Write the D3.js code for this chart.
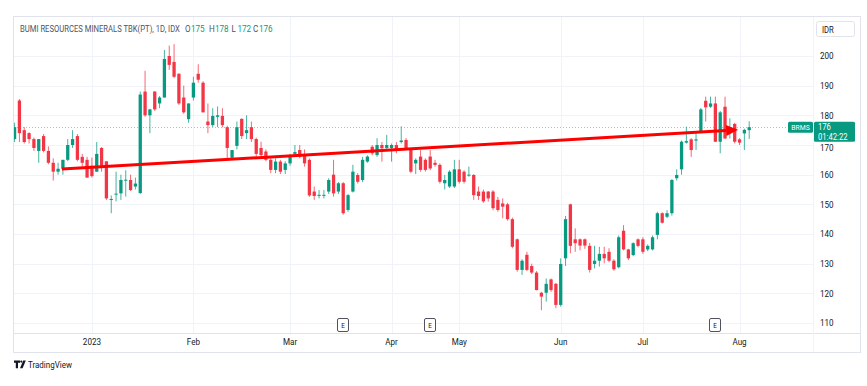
<!DOCTYPE html>
<html>
<head>
<meta charset="utf-8">
<script src="https://cdn.jsdelivr.net/npm/d3@7"></script>
<style>
  body { margin: 0; background: #fff; }
  text { font-family: Roboto, "Liberation Sans", sans-serif; }
</style>
</head>
<body>
<script>
// daily candles, BRMS (first one is cut by the left edge)
var opens = [172, 185, 175, 174, 172, 168, 173, 168, 164, 161, 162, 165, 170, 173, 166, 165, 163, 161, 169, 164.5, 151.5,
  153.3, 153.7, 158, 158.2, 156, 153.8, 188, 180, 188, 184, 186, 200, 198, 194, 186, 178.7, 186, 194, 191, 177.9,
  176.7, 179.5, 179.8, 176, 165.7, 169.7, 178.8, 174, 176, 172, 169, 167.8, 165, 161.6, 164.4, 161.6, 163.8, 167, 168.3,
  166.6, 165, 154.3, 153, 153, 154.3, 160, 154.3, 157.1, 148.1, 154.3, 159.9, 158.2, 164.4, 169.4, 166.6, 170, 169, 169,
  170, 171, 171.7, 168.3, 163.8, 166.1, 165, 166.1, 164, 163.3, 157.1, 156, 156, 161.8, 161, 159.7, 159.9, 154.3, 154.3,
  154.3, 154.3, 151.5, 150.3, 150, 145, 138.2, 127.9, 133, 129.2, 127, 120.2, 120.2, 124.7, 123.2, 116.1, 131.8, 150,
  138.2, 138.2, 138.2, 136, 129.9, 131, 133.3, 134, 131, 128.8, 141.1, 134.8, 132.9, 138.2, 138.2, 134.8, 134.8, 139.7,
  147, 145.8, 147, 158.8, 161.8, 170.8, 171.9, 171.5, 174.5, 184.9, 182.9, 184, 171.1, 182.9, 174, 177.1, 171.9, 173.9, 175];
var highs = [177.5, 185.5, 176, 174.3, 172.5, 172, 173.7, 169.5, 165.5, 164, 165, 172, 175, 173.7, 167, 166, 165.8, 171, 169.3, 164.5, 153,
  161, 160, 161.5, 160, 159, 188, 195, 182.2, 188.2, 186.5, 202, 203.5, 204, 194.2, 190, 184, 193, 197.2, 191.5, 184,
  182.4, 183, 182.4, 176.5, 168.3, 177.9, 179, 180, 177.9, 172.5, 171.1, 168.5, 165.5, 165.5, 165, 164.5, 167, 170, 170,
  168.5, 165.5, 156, 154.8, 154.8, 158.8, 165, 157.5, 157.5, 153.5, 163.3, 160.5, 166, 166.5, 170, 172.3, 171, 173.4, 170.5,
  171, 176.3, 172.3, 168.5, 165.5, 168.3, 165.5, 168.3, 165, 163.8, 159.9, 161.5, 165, 165, 161.5, 162.7, 160.2, 156, 155,
  154.5, 154.8, 152.5, 152, 150.5, 145.5, 138.5, 131.5, 134, 130, 127.5, 120.5, 125, 125, 123.5, 131.8, 146.1, 150.2,
  141.9, 138.5, 138.5, 137, 136, 135.7, 135.7, 135.2, 131.5, 139.5, 143, 135, 137.2, 138.5, 138.9, 136.5, 139.5, 147.5,
  147.3, 148, 158.5, 161.8, 171.5, 176.2, 172.3, 174, 182.5, 186.3, 186.3, 186.3, 181.5, 186.3, 179, 177.5, 172.3, 175.5, 178];
var lows = [171, 171, 170.5, 170.5, 168, 164, 167.5, 163.5, 158, 160, 160, 164.5, 169, 164.5, 162.7, 159, 159, 161, 161, 151.5, 147,
  151, 151.5, 152.6, 154.5, 155, 153.5, 179.5, 174, 181.5, 182.4, 186, 195.3, 192.5, 183.5, 180.5, 177.5, 185, 191, 181, 174,
  176, 176, 176, 165.5, 165, 168.5, 172, 172, 171, 165.5, 166, 164.5, 160.5, 160.5, 160.2, 160.2, 163, 166.5, 165.5,
  162.7, 152.5, 151.5, 152, 152, 153.5, 152.6, 153.5, 146.5, 147.5, 154, 157, 157.5, 164, 166.5, 166, 164.4, 168, 164.4,
  167.2, 170.5, 168.5, 160.5, 160.2, 161, 161, 161.5, 162.7, 157, 155, 155.5, 155.5, 157, 157, 159.3, 151.5, 151.5, 150.5,
  150.9, 148, 147.5, 145.3, 144.5, 135.2, 127.3, 126.2, 127.5, 126.5, 121, 114.3, 117.2, 120.5, 115, 115.5, 129.2, 133.5,
  134, 134.5, 135, 127, 128.4, 129, 130.1, 130.5, 127.6, 128.4, 134.5, 131.2, 132.5, 135.5, 133.3, 134.2, 134.5, 138.2,
  143.5, 145.3, 146.2, 158, 160, 170.5, 166, 168.3, 174, 177.9, 182.5, 171, 167.2, 172, 172.2, 170.5, 170, 168.3, 172];
var closes = [176, 174, 171, 172, 169, 172, 168, 164, 161, 162, 165, 170, 172, 165, 164, 159, 159.5, 167, 163, 152, 151.8,
  153.6, 158.2, 158.3, 154.8, 157, 187, 180, 182, 182, 186, 199, 197, 193, 184, 181, 184, 191, 192, 181, 176.7,
  179.8, 180, 176.7, 169, 168.3, 176, 173, 175, 172, 167, 166.6, 165, 161.6, 164.4, 161, 163.8, 166, 167.6, 166,
  163.8, 153, 152.8, 153.2, 153.2, 158.2, 153.7, 157.1, 147, 153.1, 161, 157.6, 165, 166.1, 167.2, 170, 168.9, 170, 170,
  168.3, 171.5, 168.9, 161, 165, 161.6, 161.6, 162.1, 163.3, 157.6, 158.2, 161, 161.8, 157.6, 157.6, 160, 153.1, 152.8, 151,
  152, 148.7, 148.1, 149.2, 145, 135.7, 127.9, 131, 127.9, 127, 121.1, 118.9, 123.2, 121.1, 116.1, 129.9, 145, 136,
  136.9, 136.1, 136.1, 127.9, 131, 133.3, 131.8, 131, 128.1, 138.9, 134.8, 131.8, 136.9, 136, 134, 136, 138.9, 147,
  143.8, 147, 158.2, 159.9, 171.1, 171.3, 168.3, 171.9, 182, 182.7, 184, 171.1, 181, 172.2, 175.5, 171.1, 170.8, 175.1, 176];

var monthLabels = ["2023", "Feb", "Mar", "Apr", "May", "Jun", "Jul", "Aug"];
var monthIdx = [16, 37, 57, 78, 92, 113, 130, 150];
var priceTicks = [110, 120, 130, 140, 150, 160, 170, 180, 190, 200];
var earningsIdx = [68, 86, 145];
var trendLine = [{ k: 9.8, p: 161.9 }, { k: 149.7, p: 175.1 }];
var lastPrice = 176;

var width = 867, height = 386;
var plotLeft = 14, plotRight = 813, plotTop = 17, plotBottom = 333, outerRight = 860, outerBottom = 352;
var upColor = "#089981", downColor = "#f23645", gridColor = "#f0f3fa", lineColor = "#e0e3eb";

var svg = d3.select("body").append("svg")
    .attr("width", width)
    .attr("height", height);

var x = d3.scaleLinear().domain([-0.12, 165.2]).range([plotLeft, plotRight]);
var y = d3.scaleLinear().domain([106.63, 213.14]).range([plotBottom, plotTop]);
var bw = (x(1) - x(0)) * 0.68;

function label(g, px, py, s, size, fill, anchor, sx) {
    return g.append("text")
        .attr("transform", "translate(" + px + "," + py + ") scale(" + (sx || 0.85) + ",1)")
        .attr("font-size", size)
        .attr("fill", fill)
        .attr("text-anchor", anchor || "start")
        .attr("dominant-baseline", "central")
        .text(s);
}

// text squeezed to a given on-screen width
function fitLabel(g, px, py, s, size, fill, w) {
    var t = label(g, px, py, s, size, fill, "start", 1);
    var len = t.node().getComputedTextLength();
    t.attr("transform", "translate(" + px + "," + py + ") scale(" + (w / len) + ",1)");
    return t;
}

svg.append("defs").append("clipPath").attr("id", "plot")
    .append("rect").attr("x", plotLeft).attr("y", plotTop)
    .attr("width", plotRight - plotLeft).attr("height", plotBottom - plotTop);

// grid
svg.append("g").selectAll("line").data(priceTicks).enter().append("line")
    .attr("x1", plotLeft).attr("x2", plotRight)
    .attr("y1", function(d) { return Math.round(y(d)) + 0.5; })
    .attr("y2", function(d) { return Math.round(y(d)) + 0.5; })
    .attr("stroke", gridColor);
svg.append("g").selectAll("line").data(monthIdx).enter().append("line")
    .attr("x1", function(d) { return Math.round(x(d)) + 0.5; })
    .attr("x2", function(d) { return Math.round(x(d)) + 0.5; })
    .attr("y1", plotTop).attr("y2", plotBottom)
    .attr("stroke", gridColor);

// frame
var frame = svg.append("g").attr("fill", "none").attr("stroke", lineColor);
frame.append("rect").attr("x", plotLeft - 0.5).attr("y", plotTop - 0.5)
    .attr("width", outerRight - plotLeft + 1).attr("height", outerBottom - plotTop + 1);
frame.append("line").attr("x1", plotLeft).attr("x2", outerRight)
    .attr("y1", plotBottom + 0.5).attr("y2", plotBottom + 0.5);
frame.append("line").attr("x1", plotRight + 0.5).attr("x2", plotRight + 0.5)
    .attr("y1", plotTop).attr("y2", outerBottom).attr("stroke", gridColor);

// current price dotted line
svg.append("line")
    .attr("x1", plotLeft).attr("x2", 788)
    .attr("y1", Math.round(y(lastPrice)) + 0.5).attr("y2", Math.round(y(lastPrice)) + 0.5)
    .attr("stroke", upColor).attr("stroke-opacity", 0.45)
    .attr("stroke-dasharray", "1,2");

var candles = d3.range(opens.length).map(function(k) {
    return { k: k, o: opens[k], h: highs[k], l: lows[k], c: closes[k] };
});

var plot = svg.append("g").attr("clip-path", "url(#plot)");

var g = plot.selectAll(".candle")
    .data(candles)
    .enter().append("g");

g.append("line")
    .attr("x1", function(d) { return x(d.k); })
    .attr("x2", function(d) { return x(d.k); })
    .attr("y1", function(d) { return y(d.h); })
    .attr("y2", function(d) { return y(d.l); })
    .attr("stroke", function(d) { return d.c >= d.o ? upColor : downColor; })
    .attr("stroke-opacity", 0.75);

g.append("rect")
    .attr("x", function(d) { return x(d.k) - bw / 2; })
    .attr("y", function(d) { return y(Math.max(d.o, d.c)); })
    .attr("width", bw)
    .attr("height", function(d) { return Math.max(1, Math.abs(y(d.o) - y(d.c))); })
    .attr("fill", function(d) { return d.c >= d.o ? upColor : downColor; });

// trend line with arrow head
var tx1 = x(trendLine[0].k), ty1 = y(trendLine[0].p);
var tx2 = x(trendLine[1].k), ty2 = y(trendLine[1].p);
var ang = Math.atan2(ty2 - ty1, tx2 - tx1);
var headLen = 12, headW = 5.5;
var bx = tx2 - headLen * Math.cos(ang), by = ty2 - headLen * Math.sin(ang);
plot.append("line")
    .attr("x1", tx1).attr("y1", ty1).attr("x2", bx).attr("y2", by)
    .attr("stroke", "#ff0000").attr("stroke-width", 3);
plot.append("path")
    .attr("d", "M" + tx2 + "," + ty2 +
        "L" + (bx + headW * Math.sin(ang)) + "," + (by - headW * Math.cos(ang)) +
        "L" + (bx - headW * Math.sin(ang)) + "," + (by + headW * Math.cos(ang)) + "Z")
    .attr("fill", "#ff0000");

// earnings markers
var e = svg.append("g").selectAll("g").data(earningsIdx).enter().append("g");
e.append("rect")
    .attr("x", function(d) { return Math.round(x(d)) - 5.5; })
    .attr("y", 318.5).attr("width", 11).attr("height", 13).attr("rx", 1.5)
    .attr("fill", "#fff").attr("stroke", "#50535e");
e.each(function(d) { label(d3.select(this), Math.round(x(d)), 325.5, "E", 7.5, "#131722", "middle"); });

// price axis
var pa = svg.append("g");
priceTicks.forEach(function(p) { label(pa, 820, y(p) + (p === 170 ? 2.5 : 0), p, 9.5, "#131722"); });

// time axis
var ta = svg.append("g");
monthLabels.forEach(function(m, i) { label(ta, x(monthIdx[i]), 341.5, m, 9.5, "#131722", "middle"); });

// currency button
svg.append("rect").attr("x", 816.5).attr("y", 21.5).attr("width", 38).attr("height", 15).attr("rx", 2)
    .attr("fill", "#fff").attr("stroke", lineColor);
label(svg, 822, 29.5, "IDR", 9, "#131722");

// last price labels
var ly = y(lastPrice);
svg.append("rect").attr("x", 788).attr("y", ly - 5.5).attr("width", 25).attr("height", 11).attr("rx", 1.5).attr("fill", upColor);
label(svg, 800.5, ly, "BRMS", 8, "#fff", "middle");
svg.append("rect").attr("x", 814).attr("y", ly - 5.5).attr("width", 41).attr("height", 20).attr("rx", 1.5).attr("fill", upColor);
var lp = svg.append("text")
    .attr("transform", "translate(818," + (ly + 3.2) + ") scale(0.85,1)")
    .attr("font-size", 9).attr("fill", "#fff");
lp.append("tspan").attr("x", 0).attr("y", 0).text(String(lastPrice));
lp.append("tspan").attr("x", 0).attr("y", 9.3).text("01:42:22");

// legend line
var head = svg.append("g");
fitLabel(head, 20, 28.5, "BUMI RESOURCES MINERALS TBK(PT), 1D, IDX", 9.5, "#50535e", 160);
var ohlc = [["O", opens], ["H", highs], ["L", lows], ["C", closes]];
var ox = [185, 209, 231.5, 253];
ohlc.forEach(function(item, i) {
    label(head, ox[i], 28.5, item[0], 9.5, "#50535e");
    label(head, ox[i] + 6, 28.5, Math.round(item[1][item[1].length - 1]), 9.5, upColor);
});

// TradingView mark
var logo = svg.append("g").attr("fill", "#131722");
logo.append("path").attr("d", "M14,360.5h6v2.2h-2v5.5h-2.2v-5.5h-1.8z");
logo.append("circle").attr("cx", 21.3).attr("cy", 361.6).attr("r", 1.1);
logo.append("path").attr("d", "M23.2,360.5h2.6l-3.2,7.7h-2.6z");
fitLabel(svg, 28, 364.5, "TradingView", 9.5, "#131722", 44);
</script>
</body>
</html>
